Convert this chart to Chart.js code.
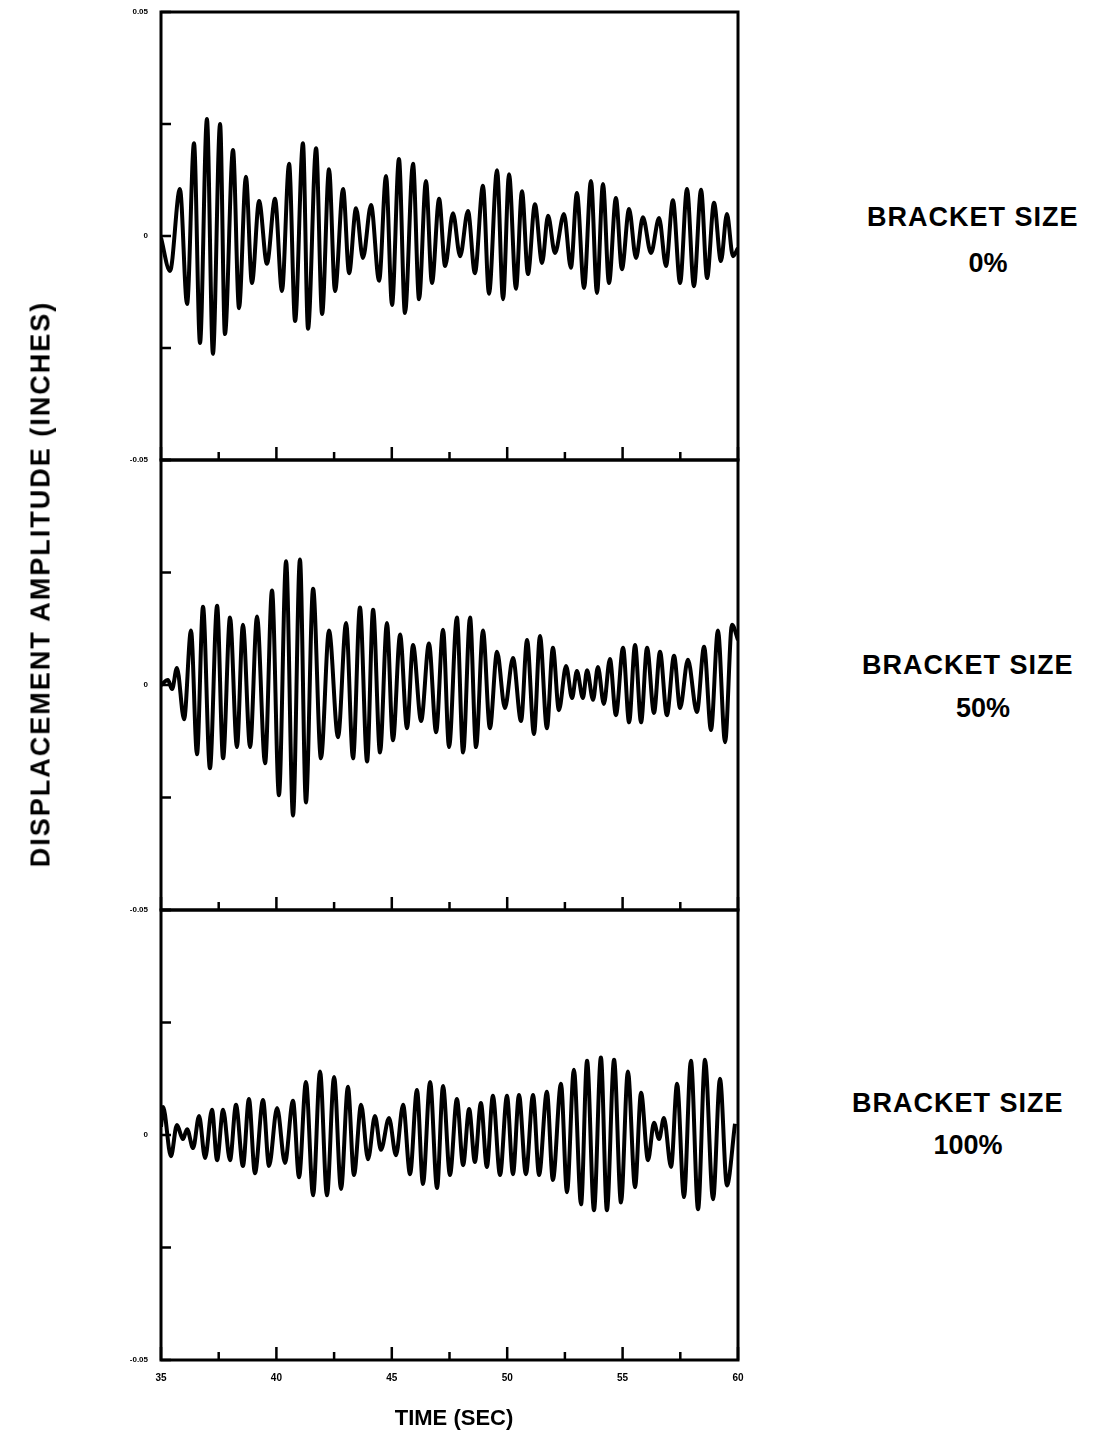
<!DOCTYPE html>
<html>
<head>
<meta charset="utf-8">
<script src="https://cdn.jsdelivr.net/npm/chart.js@4/dist/chart.umd.min.js"></script>
<style>
  body { margin: 0; background: #fff; width: 1095px; height: 1449px; position: relative; overflow: hidden; }
  canvas { position: absolute; left: 0; }
  .lbl { position: absolute; font-family: "Liberation Sans", Arial, sans-serif; font-weight: bold; color: #000; line-height: 1; white-space: nowrap; }
</style>
</head>
<body>
<canvas id="p0" width="760" height="480" style="top:0px"></canvas>
<canvas id="p50" width="760" height="490" style="top:440px"></canvas>
<canvas id="p100" width="760" height="520" style="top:890px"></canvas>

<div class="lbl" style="font-size:27px;letter-spacing:2px;left:41px;top:584px;transform:translate(-50%,-50%) rotate(-90deg);">DISPLACEMENT AMPLITUDE (INCHES)</div>
<div class="lbl" style="font-size:22px;left:454px;top:1418px;transform:translate(-50%,-50%);">TIME (SEC)</div>

<div class="lbl" style="font-size:27px;letter-spacing:1px;left:867px;top:204px;">BRACKET SIZE</div>
<div class="lbl" style="font-size:27px;left:988px;top:250px;transform:translateX(-50%);">0%</div>
<div class="lbl" style="font-size:27px;letter-spacing:1px;left:862px;top:652px;">BRACKET SIZE</div>
<div class="lbl" style="font-size:27px;left:983px;top:695px;transform:translateX(-50%);">50%</div>
<div class="lbl" style="font-size:27px;letter-spacing:1px;left:852px;top:1090px;">BRACKET SIZE</div>
<div class="lbl" style="font-size:27px;left:968px;top:1132px;transform:translateX(-50%);">100%</div>

<script>
// peaks and troughs (time in s, displacement in inches)
const time0 = [35.00,35.39,35.82,36.13,36.43,36.69,36.99,37.25,37.56,37.77,
  38.12,38.38,38.68,38.94,39.25,39.59,39.94,40.24,40.55,40.81,
  41.15,41.37,41.72,41.98,42.28,42.54,42.89,43.15,43.45,43.75,
  44.10,44.45,44.75,45.01,45.31,45.57,45.92,46.18,46.48,46.74,
  47.05,47.31,47.65,47.96,48.30,48.60,48.95,49.21,49.56,49.82,
  50.08,50.38,50.64,50.90,51.20,51.51,51.77,52.07,52.46,52.76,
  53.02,53.33,53.63,53.89,54.15,54.41,54.71,54.97,55.28,55.58,
  55.88,56.23,56.58,56.88,57.18,57.49,57.79,58.09,58.40,58.66,
  58.96,59.26,59.52,59.78,60.00];
const disp0 = [-0.0004,-0.0078,0.0105,-0.0152,0.0207,-0.0239,0.0261,-0.0263,0.0250,-0.0219,
  0.0192,-0.0161,0.0132,-0.0105,0.0078,-0.0062,0.0083,-0.0123,0.0161,-0.0190,
  0.0207,-0.0207,0.0196,-0.0174,0.0149,-0.0123,0.0105,-0.0083,0.0062,-0.0049,
  0.0069,-0.0100,0.0134,-0.0154,0.0172,-0.0172,0.0161,-0.0141,0.0123,-0.0105,
  0.0083,-0.0067,0.0051,-0.0045,0.0056,-0.0083,0.0112,-0.0129,0.0147,-0.0141,
  0.0138,-0.0118,0.0100,-0.0085,0.0071,-0.0060,0.0045,-0.0038,0.0049,-0.0071,
  0.0096,-0.0116,0.0123,-0.0127,0.0116,-0.0105,0.0085,-0.0074,0.0060,-0.0049,
  0.0042,-0.0038,0.0040,-0.0067,0.0080,-0.0105,0.0105,-0.0112,0.0103,-0.0094,
  0.0074,-0.0056,0.0049,-0.0045,-0.0027];

const time50 = [35.00,35.30,35.48,35.69,36.00,36.30,36.56,36.82,37.12,37.43,
  37.69,37.99,38.29,38.55,38.86,39.16,39.51,39.81,40.11,40.42,
  40.72,41.02,41.28,41.59,41.93,42.28,42.67,43.02,43.32,43.62,
  43.93,44.19,44.49,44.79,45.05,45.36,45.66,45.92,46.27,46.61,
  46.92,47.22,47.48,47.82,48.09,48.39,48.65,48.95,49.25,49.56,
  49.90,50.25,50.60,50.86,51.16,51.42,51.72,51.98,52.24,52.55,
  52.81,53.02,53.28,53.46,53.72,53.93,54.19,54.45,54.71,55.02,
  55.28,55.54,55.80,56.06,56.36,56.62,56.92,57.23,57.49,57.83,
  58.22,58.53,58.83,59.13,59.44,59.74,60.00];
const disp50 = [0,0.0011,-0.0009,0.0038,-0.0076,0.0121,-0.0154,0.0174,-0.0185,0.0176,
  -0.0163,0.0150,-0.0138,0.0134,-0.0138,0.0152,-0.0174,0.0210,-0.0245,0.0275,
  -0.0290,0.0279,-0.0261,0.0214,-0.0163,0.0121,-0.0116,0.0138,-0.0163,0.0172,
  -0.0170,0.0167,-0.0150,0.0138,-0.0123,0.0112,-0.0096,0.0089,-0.0080,0.0092,
  -0.0105,0.0123,-0.0138,0.0150,-0.0150,0.0150,-0.0138,0.0121,-0.0096,0.0074,
  -0.0051,0.0060,-0.0080,0.0100,-0.0109,0.0109,-0.0096,0.0083,-0.0056,0.0042,
  -0.0029,0.0031,-0.0029,0.0033,-0.0033,0.0040,-0.0042,0.0058,-0.0067,0.0083,
  -0.0083,0.0089,-0.0083,0.0083,-0.0062,0.0074,-0.0067,0.0065,-0.0051,0.0056,
  -0.0060,0.0085,-0.0100,0.0121,-0.0127,0.0134,0.0100];

const time100 = [35.00,35.09,35.43,35.69,35.95,36.13,36.39,36.65,36.91,37.21,
  37.43,37.69,37.99,38.25,38.55,38.81,39.07,39.42,39.68,40.03,
  40.37,40.72,40.98,41.28,41.59,41.89,42.19,42.50,42.80,43.10,
  43.36,43.67,43.97,44.27,44.53,44.88,45.18,45.49,45.79,46.09,
  46.35,46.66,46.96,47.22,47.52,47.82,48.09,48.35,48.60,48.86,
  49.12,49.38,49.69,49.99,50.25,50.51,50.81,51.12,51.38,51.72,
  51.98,52.33,52.59,52.89,53.20,53.46,53.76,54.06,54.32,54.63,
  54.93,55.23,55.54,55.80,56.10,56.36,56.58,56.79,57.10,57.36,
  57.66,57.96,58.27,58.57,58.92,59.22,59.52,59.87];
const disp100 = [0.0018,0.0062,-0.0047,0.0022,-0.0009,0.0013,-0.0029,0.0042,-0.0051,0.0056,
  -0.0056,0.0056,-0.0056,0.0067,-0.0069,0.0080,-0.0085,0.0078,-0.0069,0.0060,
  -0.0062,0.0076,-0.0094,0.0118,-0.0134,0.0141,-0.0134,0.0129,-0.0120,0.0107,
  -0.0089,0.0067,-0.0054,0.0042,-0.0033,0.0038,-0.0045,0.0067,-0.0087,0.0100,
  -0.0109,0.0118,-0.0118,0.0109,-0.0089,0.0080,-0.0067,0.0058,-0.0060,0.0071,
  -0.0071,0.0087,-0.0089,0.0087,-0.0087,0.0089,-0.0087,0.0089,-0.0089,0.0096,
  -0.0100,0.0114,-0.0127,0.0145,-0.0154,0.0165,-0.0167,0.0172,-0.0167,0.0167,
  -0.0150,0.0141,-0.0116,0.0094,-0.0056,0.0027,-0.0009,0.0038,-0.0071,0.0114,
  -0.0138,0.0165,-0.0165,0.0167,-0.0143,0.0125,-0.0112,0.0025];

const xTickLabels = [35, 40, 45, 50, 55, 60];
const yTickLabels = [0.05, 0, -0.05];

/* frame round the plot and the little inward ticks */
const frameTicks = {
  id: 'frameTicks',
  afterDraw(chart) {
    const ctx = chart.ctx, a = chart.chartArea;
    const x = chart.scales.x, y = chart.scales.y;
    ctx.save();
    ctx.strokeStyle = '#000';
    ctx.lineWidth = 3;
    ctx.strokeRect(a.left, a.top, a.right - a.left, a.bottom - a.top);
    ctx.lineWidth = 2.5;
    ctx.beginPath();
    x.ticks.forEach(t => {
      const px = x.getPixelForValue(t.value);
      const len = xTickLabels.includes(t.value) ? 13 : 8;
      ctx.moveTo(px, a.bottom);
      ctx.lineTo(px, a.bottom - len);
    });
    y.ticks.forEach(t => {
      const py = y.getPixelForValue(t.value);
      ctx.moveTo(a.left, py);
      ctx.lineTo(a.left + 10, py);
    });
    ctx.stroke();
    ctx.restore();
  }
};

function panel(id, times, disps, opt) {
  const canvas = document.getElementById(id);
  return new Chart(canvas, {
    type: 'line',
    data: {
      datasets: [{
        data: times.map((t, i) => ({x: t, y: disps[i]})),
        borderColor: '#000',
        borderWidth: 4,
        pointRadius: 0,
        fill: false,
        cubicInterpolationMode: 'monotone'
      }]
    },
    options: {
      responsive: false,
      animation: false,
      layout: {padding: {top: opt.top, right: 22, left: 0, bottom: 0}},
      plugins: {legend: {display: false}, tooltip: {enabled: false}},
      scales: {
        x: {
          type: 'linear', min: 35, max: 60,
          grid: {display: false}, border: {display: false},
          afterFit: s => { s.height = opt.bottom; },
          ticks: {
            stepSize: 2.5, autoSkip: false, maxRotation: 0, padding: 4,
            color: '#000', font: {family: 'Liberation Sans', size: 10, weight: 'bold'},
            callback: v => (opt.xLabels && xTickLabels.includes(v)) ? String(v) : ''
          }
        },
        y: {
          min: -0.05, max: 0.05,
          grid: {display: false}, border: {display: false},
          afterFit: s => { s.width = 161; },
          ticks: {
            stepSize: 0.025, padding: 5,
            color: '#000', font: {family: 'Liberation Sans', size: 8, weight: 'bold'},
            callback: v => {
              const r = Math.round(v * 1000) / 1000;
              if (!yTickLabels.includes(r)) return '';
              if (r === 0.05 && !opt.topLabel) return '';
              return r === 0 ? '0' : r.toFixed(2);
            }
          }
        }
      }
    },
    plugins: [frameTicks]
  });
}

panel('p0', time0, disp0, {top: 12, bottom: 20, xLabels: false, topLabel: true});
panel('p50', time50, disp50, {top: 20, bottom: 20, xLabels: false, topLabel: false});
panel('p100', time100, disp100, {top: 20, bottom: 50, xLabels: true, topLabel: false});
</script>
</body>
</html>
